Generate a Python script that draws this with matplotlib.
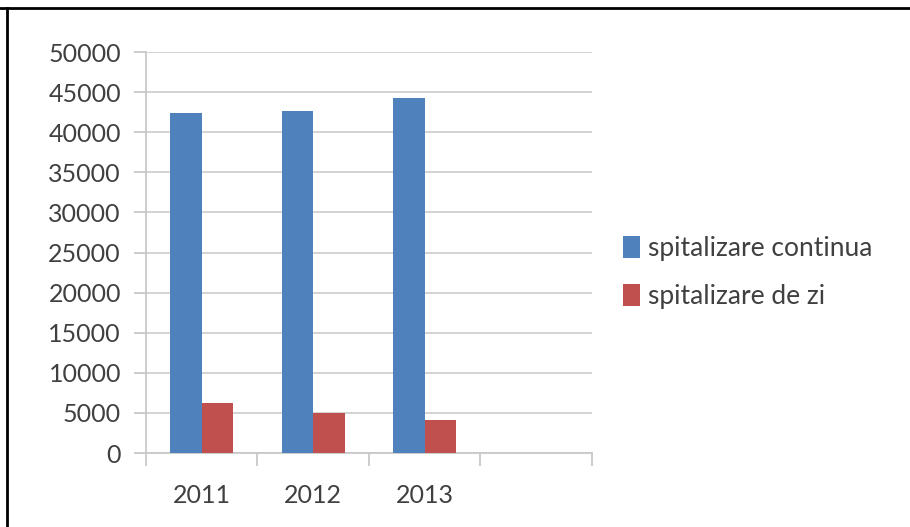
import numpy as np
import matplotlib
matplotlib.use('Agg')
import matplotlib.pyplot as plt
from matplotlib.lines import Line2D

# date
categorii = ['2011', '2012', '2013', '']
continua = [42400, 42700, 44300, np.nan]
de_zi = [6250, 5000, 4080, np.nan]
serii = ['spitalizare continua', 'spitalizare de zi']

plt.rcParams['font.family'] = ['Lato', 'DejaVu Sans']

fig = plt.figure(figsize=(9.1, 5.27), dpi=100)
ax = fig.add_axes([0.1604, 0.1404, 0.4901, 0.7609])

x = np.arange(len(categorii))
w = 0.283
ax.bar(x - w / 2, continua, w, color='#4F81BD', label=serii[0], zorder=3)
ax.bar(x + w / 2, de_zi, w, color='#C0504D', label=serii[1], zorder=3)

ax.set_xlim(-0.5, len(categorii) - 0.5)
ax.set_ylim(0, 50000)
ax.set_yticks(np.arange(0, 50001, 5000))
ax.grid(axis='y', color='#d0d0d0', linewidth=1.3, zorder=0)

# ticks at category boundaries, labels at centres
ax.set_xticks(np.arange(-0.5, len(categorii), 1))
ax.set_xticklabels([])
ax.set_xticks(x, minor=True)
ax.set_xticklabels(categorii, minor=True)
ax.tick_params(axis='x', which='major', length=9, width=1.3, color='#c8c8c8', direction='out')
ax.tick_params(axis='x', which='minor', length=0, pad=22, labelsize=18, labelcolor='#404040')
ax.tick_params(axis='y', length=9, width=1.3, color='#c8c8c8', pad=9, labelsize=18, labelcolor='#404040')

for s in ['top', 'right']:
    ax.spines[s].set_visible(False)
for s in ['left', 'bottom']:
    ax.spines[s].set_color('#c8c8c8')
    ax.spines[s].set_linewidth(1.3)

ax.legend(loc='center left', bbox_to_anchor=(1.016, 0.45), frameon=False, fontsize=19,
          handlelength=0.65, handleheight=0.9, handletextpad=0.3, labelspacing=0.9,
          labelcolor='#404040')

# chenar (doar sus si stanga)
fig.add_artist(Line2D([0, 1], [1 - 8 / 527] * 2, transform=fig.transFigure, color='black', linewidth=2))
fig.add_artist(Line2D([7 / 910] * 2, [0, 1 - 8 / 527], transform=fig.transFigure, color='black', linewidth=2))

fig.savefig('out.png', dpi=100)
